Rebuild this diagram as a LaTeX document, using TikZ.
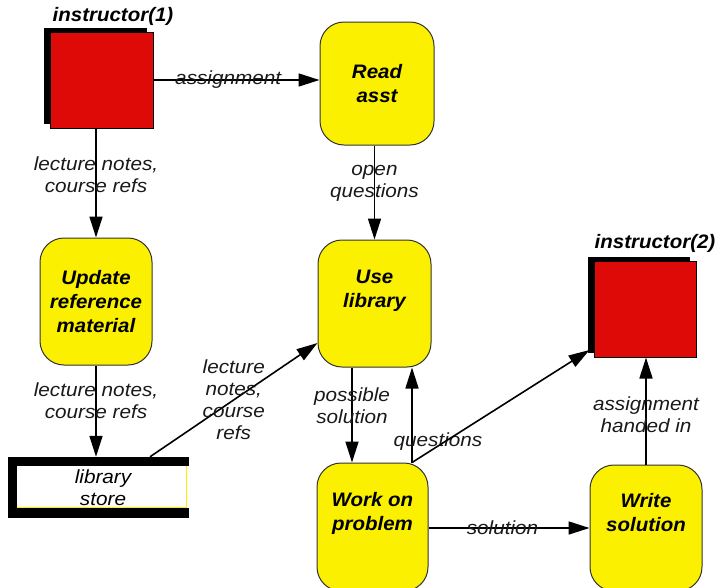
\documentclass[tikz,border=0pt]{standalone}
\usepackage{fontspec}
\setmainfont{Liberation Sans}
\newfontfamily\procfont[FakeStretch=1.05]{Liberation Sans}
\newfontfamily\labfont[FakeStretch=1.09]{Liberation Sans}
\usetikzlibrary{arrows.meta,shadows,calc}
\definecolor{boxyellow}{RGB}{250,240,0}
\definecolor{actorred}{RGB}{222,10,8}
\definecolor{labgray}{RGB}{25,25,25}

\begin{document}
\begin{tikzpicture}[x=1pt,y=-1pt,
  proc/.style={draw=black!80, line width=1pt, fill=boxyellow, rounded corners=24pt,
    font=\procfont\fontsize{19.5}{24}\selectfont\bfseries\itshape, align=center, inner sep=0pt},
  actor/.style={draw=black, line width=1pt, fill=actorred, inner sep=0pt,
    drop shadow={shadow xshift=-6.5pt, shadow yshift=4.5pt, fill=black, opacity=1}},
  flow/.style={line width=1.6pt, -{Triangle[length=21pt,width=13pt]}},
  lab/.style={font=\labfont\fontsize{19}{22}\selectfont\itshape, text=labgray, align=center, inner sep=0pt},
  ttl/.style={font=\procfont\fontsize{19.5}{22}\selectfont\bfseries\itshape, inner sep=0pt}
]
\useasboundingbox (0,0) rectangle (720,587);

% external entities
\node[actor, minimum width=103, minimum height=96] (i1) at (101.5,80) {};
\node[ttl] (t1) at (113,16) {instructor(1)};
\node[actor, minimum width=102, minimum height=96] (i2) at (645,309) {};
\node[ttl] (t2) at (655,243) {instructor(2)};

% processes
\node[proc, minimum width=114, minimum height=123] (read) at (377,83.5) {Read\\asst};
\node[proc, minimum width=112, minimum height=127] (upd) at (96,301.5) {Update\\reference\\material};
\node[proc, minimum width=113, minimum height=127] (use) at (374.5,303.5) {Use\\library\\[6pt]};
\node[proc, minimum width=111, minimum height=128] (work) at (372.5,527) {Work on\\problem\\[8pt]};
\node[proc, minimum width=112, minimum height=126] (write) at (646,528) {Write\\solution\\[8pt]};

% data store
\node[lab, text=black, minimum width=172, minimum height=61] (lib) at (103,487.5) {library\\store};
\fill[black] (lib.north west) rectangle ([yshift=-9pt]lib.north east);
\fill[black] (lib.south west) rectangle ([yshift=10pt]lib.south east);
\fill[black] ([xshift=-9pt]lib.south west) rectangle (lib.north west);
\draw[boxyellow, line width=1pt]
  ([yshift=10.5pt]lib.south west) -- ([xshift=-3pt,yshift=10.5pt]lib.south east)
  -- ([xshift=-3pt,yshift=-9pt]lib.north east);

% flows
\draw[flow] (i1.east) -- (read.west |- i1.east)
  node[lab, pos=0.45] {assignment};
\draw[flow] (upd.north |- i1.south) -- (upd.north)
  node[lab, pos=0.42] {lecture notes,\\course refs};
\draw[flow] (upd.south) -- (upd.south |- lib.north)
  node[lab, pos=0.39] {lecture notes,\\course refs};
\draw[flow] ([xshift=47pt]lib.north) -- ([yshift=-39.5pt]use.west)
  node[lab, pos=0.5] {lecture\\notes,\\course\\refs};
\draw[flow] (read.south -| use.north) -- (use.north)
  node[lab, pos=0.4] {open\\questions};
\draw[flow] ([xshift=-22.5pt]use.south) -- ([xshift=-22.5pt]use.south |- work.north)
  node[lab, pos=0.4] {possible\\solution};
\draw[flow] ([xshift=39.5pt]work.north) -- ([xshift=39.5pt]work.north |- use.south)
  node[lab, pos=0.22, xshift=26pt] {questions};
\draw[flow] ([xshift=39.5pt]work.north) -- ([yshift=-41pt,xshift=-4pt]i2.west);
\draw[flow] (work.east |- write.west) -- (write.west)
  node[lab, pos=0.46] {solution};
\draw[flow] (write.north) -- (write.north |- i2.south)
  node[lab, pos=0.47] {assignment\\handed in};
\end{tikzpicture}
\end{document}
